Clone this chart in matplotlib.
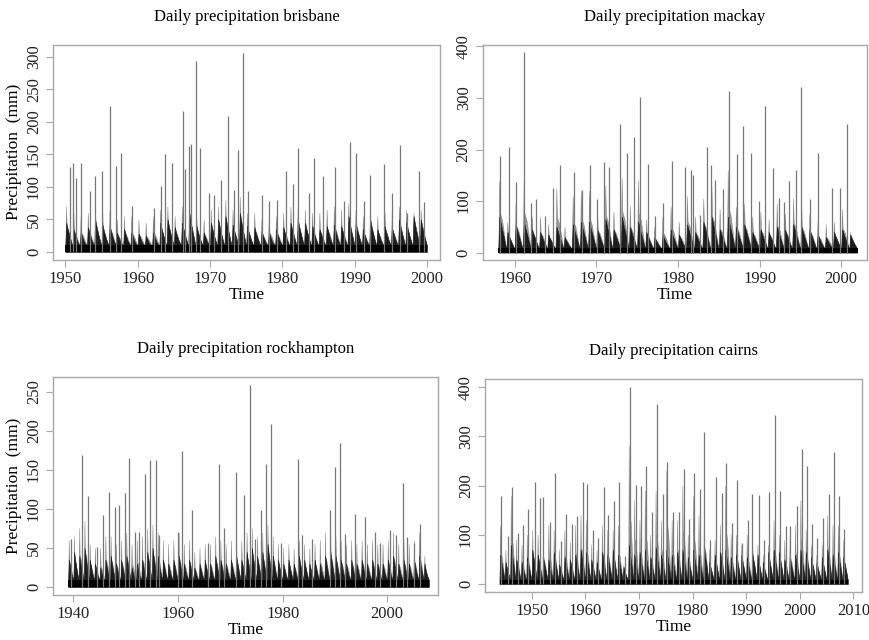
import matplotlib
matplotlib.use("Agg")
import matplotlib.pyplot as plt
import numpy as np

plt.rcParams["font.family"] = ["Liberation Serif", "DejaVu Serif"]

# ---- brisbane ----
bris_years = list(range(1950, 2000))
bris_core = [45, 35, 30, 38, 50, 42, 40, 30, 35, 30, 28, 25, 30, 45, 50, 38, 45, 60, 40, 30,
             45, 50, 55, 42, 60, 40, 38, 32, 30, 35, 38, 45, 50, 45, 40, 35, 40, 42, 40, 55,
             45, 35, 50, 35, 40, 38, 50, 45, 55, 50]
bris_halo = [70, 60, 55, 60, 65, 60, 65, 50, 55, 55, 50, 45, 55, 65, 70, 55, 70, 85, 55, 50,
             65, 70, 80, 65, 85, 60, 60, 50, 55, 55, 60, 70, 70, 65, 60, 60, 65, 70, 65, 75,
             65, 55, 70, 55, 60, 60, 70, 65, 60, 65]
bris_spike_t = [1950.7, 1951.1, 1951.5, 1952.1, 1953.4, 1954.1, 1955.0, 1956.1, 1957.0, 1957.7,
                1959.2, 1962.3, 1963.2, 1963.8, 1964.8, 1966.2, 1966.5, 1967.1, 1967.4, 1968.0,
                1968.6, 1969.9, 1970.6, 1971.5, 1972.5, 1973.3, 1973.9, 1974.5, 1975.3, 1977.2,
                1978.2, 1979.3, 1980.5, 1981.5, 1982.1, 1983.6, 1984.4, 1985.6, 1987.2, 1988.5,
                1989.3, 1990.2, 1991.2, 1992.1, 1994.0, 1995.2, 1996.2, 1997.2, 1998.9, 1999.6]
bris_spike_v = [131, 137, 113, 137, 93, 117, 124, 224, 132, 152,
                70, 67, 102, 151, 136, 217, 127, 162, 166, 293,
                159, 91, 88, 111, 209, 95, 157, 306, 93, 88,
                78, 79, 125, 104, 160, 91, 144, 117, 131, 78,
                169, 152, 78, 118, 135, 91, 164, 59, 125, 77]

# ---- mackay ----
mack_years = list(range(1958, 2002))
mack_core = [70, 40, 55, 60, 45, 40, 35, 50, 30, 55, 60, 60, 45, 65, 45, 70, 50, 60, 40, 30,
             35, 45, 35, 55, 40, 60, 70, 45, 70, 50, 55, 40, 45, 40, 50, 45, 55, 50, 45, 35,
             30, 40, 45, 35]
mack_halo = [140, 60, 95, 140, 70, 70, 55, 125, 50, 110, 120, 120, 80, 130, 80, 145, 90, 140, 65, 50,
             70, 90, 60, 110, 70, 105, 130, 85, 160, 90, 95, 70, 80, 65, 95, 75, 105, 90, 75, 60,
             55, 60, 85, 40]
mack_spike_t = [1958.2, 1959.3, 1960.1, 1961.1, 1962.0, 1962.6, 1963.7, 1964.7, 1965.6, 1967.3,
                1968.2, 1969.2, 1970.1, 1970.9, 1971.6, 1972.9, 1973.7, 1974.6, 1975.4, 1976.3,
                1977.2, 1978.2, 1979.3, 1980.9, 1981.6, 1981.9, 1982.7, 1983.6, 1984.0, 1984.5,
                1985.5, 1986.2, 1987.2, 1988.0, 1989.0, 1989.9, 1990.7, 1991.7, 1992.4, 1993.0,
                1993.6, 1994.4, 1995.1, 1996.2, 1997.1, 1998.9, 1999.9, 2000.7]
mack_spike_v = [188, 204, 136, 389, 97, 104, 70, 125, 169, 156,
                122, 169, 104, 175, 167, 249, 193, 225, 302, 172,
                71, 96, 177, 166, 160, 151, 73, 204, 169, 140,
                123, 313, 191, 245, 193, 101, 285, 165, 105, 99,
                138, 160, 322, 104, 194, 126, 125, 250]

# ---- rockhampton ----
rock_years = list(range(1939, 2008))
rock_core = [35, 45, 40, 50, 35, 30, 25, 35, 40, 30, 35, 40, 25, 30, 35, 45, 50, 40, 35, 30,
             35, 40, 30, 35, 25, 30, 35, 30, 40, 35, 30, 35, 40, 35, 45, 50, 40, 45, 55, 40,
             35, 30, 35, 30, 40, 35, 30, 35, 30, 40, 45, 40, 35, 30, 35, 30, 35, 30, 35, 30,
             30, 35, 40, 30, 35, 30, 35, 40, 30]
rock_halo = [60, 65, 75, 85, 55, 50, 50, 65, 65, 55, 60, 70, 55, 60, 65, 75, 80, 70, 60, 55,
             60, 70, 55, 60, 45, 50, 55, 55, 65, 60, 55, 60, 65, 60, 70, 75, 65, 70, 80, 65,
             55, 50, 55, 50, 60, 55, 50, 55, 60, 70, 75, 65, 60, 55, 60, 55, 60, 55, 60, 55,
             55, 60, 70, 55, 60, 55, 60, 70, 40]
rock_spike_t = [1939.6, 1941.6, 1942.7, 1944.5, 1945.6, 1946.7, 1948.0, 1948.7, 1949.8, 1950.7,
                1951.7, 1952.6, 1953.6, 1954.7, 1955.7, 1956.3, 1959.9, 1960.8, 1962.7, 1965.7,
                1967.8, 1968.8, 1971.0, 1972.7, 1973.7, 1974.8, 1975.9, 1976.9, 1977.8, 1979.7,
                1983.0, 1983.7, 1985.6, 1989.1, 1990.1, 1990.9, 1991.9, 1993.8, 1995.8, 1997.6,
                1998.6, 2000.6, 2001.7, 2003.0, 2003.8, 2005.1, 2006.2]
rock_spike_v = [62, 169, 117, 51, 92, 121, 103, 105, 120, 165,
                71, 71, 144, 162, 162, 66, 71, 174, 98, 56,
                157, 75, 147, 118, 258, 62, 98, 158, 208, 56,
                164, 67, 62, 98, 154, 184, 68, 93, 90, 71,
                56, 73, 66, 133, 64, 56, 81]

# ---- cairns ----
cair_years = list(range(1944, 2009))
cair_core = [60, 45, 80, 50, 45, 55, 70, 60, 55, 50, 65, 40, 55, 50, 60, 70, 65, 50, 45, 65,
             60, 70, 60, 35, 80, 60, 65, 70, 55, 75, 60, 70, 60, 65, 70, 55, 70, 60, 75, 45,
             60, 65, 70, 55, 60, 60, 55, 65, 60, 45, 65, 70, 65, 50, 55, 60, 70, 65, 55, 45,
             55, 70, 60, 65, 55]
cair_halo = [120, 70, 180, 90, 80, 100, 110, 100, 95, 120, 110, 70, 110, 85, 120, 140, 130, 80, 70, 120,
             110, 110, 120, 40, 280, 170, 130, 190, 100, 190, 130, 230, 130, 130, 200, 100, 180, 140, 140, 70,
             90, 120, 200, 100, 100, 80, 100, 100, 80, 60, 80, 130, 100, 90, 100, 120, 170, 110, 80, 60,
             80, 140, 120, 120, 90]
cair_spike_t = [1944.3, 1945.5, 1946.4, 1947.4, 1948.3, 1949.3, 1950.6, 1951.6, 1952.2, 1953.4,
                1954.4, 1955.4, 1956.4, 1957.5, 1958.5, 1959.5, 1960.4, 1961.4, 1962.3, 1963.4,
                1964.3, 1965.4, 1966.2, 1967.4, 1968.4, 1969.4, 1970.4, 1971.3, 1972.4, 1973.3,
                1974.4, 1975.3, 1976.3, 1977.4, 1978.4, 1979.3, 1980.3, 1981.3, 1982.2, 1983.3,
                1984.4, 1985.4, 1986.3, 1987.3, 1988.2, 1989.3, 1990.4, 1991.1, 1992.3, 1993.4,
                1994.3, 1995.3, 1996.3, 1997.4, 1998.2, 1999.4, 2000.4, 2001.4, 2002.2, 2003.3,
                2004.4, 2005.5, 2006.4, 2007.4, 2008.3]
cair_spike_v = [178, 98, 198, 103, 120, 152, 208, 174, 176, 125,
                226, 88, 142, 121, 138, 208, 203, 110, 93, 198,
                140, 169, 208, 56, 400, 201, 199, 240, 147, 366,
                183, 247, 147, 147, 233, 132, 225, 193, 308, 89,
                218, 184, 245, 123, 211, 83, 130, 183, 181, 89,
                186, 344, 189, 117, 118, 159, 274, 239, 121, 94,
                134, 183, 269, 178, 111]

panels = [
    dict(name="brisbane", years=bris_years, core=bris_core, halo=bris_halo,
         st=bris_spike_t, sv=bris_spike_v, floor=10,
         pos=[0.061, 0.594, 0.445, 0.336], xlim=(1948.3, 2001.8), ylim=(-12.2, 318.2),
         xt=range(1950, 2001, 10), yt=range(0, 301, 50), ylab=True),
    dict(name="mackay", years=mack_years, core=mack_core, halo=mack_halo,
         st=mack_spike_t, sv=mack_spike_v, floor=8,
         pos=[0.555, 0.594, 0.441, 0.336], xlim=(1956.1, 2003.1), ylim=(-14.2, 403.3),
         xt=range(1960, 2001, 10), yt=range(0, 401, 100), ylab=False),
    dict(name="rockhampton", years=rock_years, core=rock_core, halo=rock_halo,
         st=rock_spike_t, sv=rock_spike_v, floor=9,
         pos=[0.061, 0.070, 0.443, 0.341], xlim=(1936.1, 2009.8), ylim=(-10.5, 268.8),
         xt=range(1940, 2001, 20), yt=range(0, 251, 50), ylab=True),
    dict(name="cairns", years=cair_years, core=cair_core, halo=cair_halo,
         st=cair_spike_t, sv=cair_spike_v, floor=8,
         pos=[0.5575, 0.075, 0.4333, 0.333], xlim=(1941.3, 2011.6), ylim=(-16.3, 416.9),
         xt=range(1950, 2011, 10), yt=range(0, 401, 100), ylab=False),
]

fig = plt.figure(figsize=(8.7, 6.4), dpi=100)
box = "#a8a8a8"

for p in panels:
    ax = fig.add_axes(p["pos"])
    yrs = p["years"]
    fl = p["floor"]
    # seasonal envelopes: gray halo then dark core, tapering through each year
    hx, hy, cx, cy = [], [], [], []
    for y, c, h in zip(yrs, p["core"], p["halo"]):
        hx += [y, y + 0.1, y + 0.18, y + 0.45, y + 0.95]
        hy += [fl, h, 0.55 * h, 0.45 * h, fl]
        cx += [y, y + 0.12, y + 0.35, y + 0.6, y + 0.95]
        cy += [fl, c, 0.75 * c, 0.5 * c, fl]
    t0, t1 = yrs[0], yrs[-1] + 1
    ax.fill_between(hx, 0, hy, color="#6e6e6e", lw=0.4, alpha=0.7)
    ax.vlines(p["st"], 0, p["sv"], color="#777777", lw=0.9)
    ax.fill_between(cx, 0, cy, color="#1c1c1c", lw=0.4)
    ax.fill_between([t0, t1], 0, fl, color="black", lw=0)

    ax.set_xlim(*p["xlim"])
    ax.set_ylim(*p["ylim"])
    ax.set_xticks(list(p["xt"]))
    ax.set_yticks(list(p["yt"]))
    for s in ax.spines.values():
        s.set_color(box)
        s.set_linewidth(1.0)
    ax.tick_params(direction="out", length=5, width=0.8, color=box,
                   labelsize=12, labelcolor="#222222", pad=3)
    for lab in ax.get_yticklabels():
        lab.set_rotation(90)
        lab.set_va("center")
    ax.set_title("Daily precipitation " + p["name"], fontsize=12, pad=17)
    ax.set_xlabel("Time", fontsize=12.5, labelpad=0)
    if p["ylab"]:
        ax.set_ylabel("Precipitation  (mm)", fontsize=12.5, labelpad=3)

fig.savefig("out.png", dpi=100)
